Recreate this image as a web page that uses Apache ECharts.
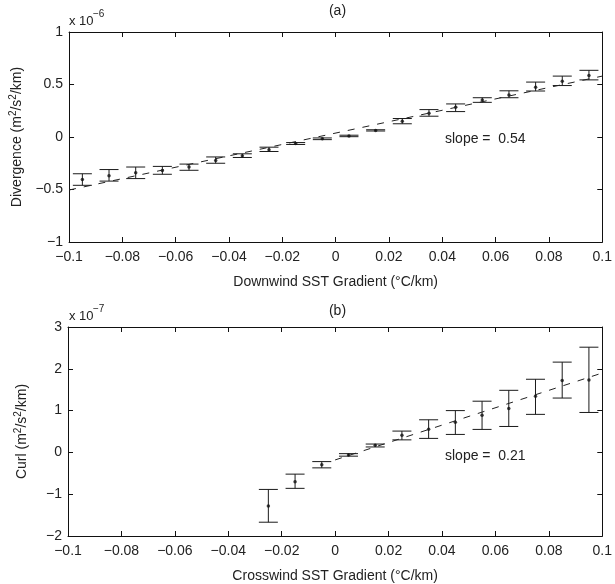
<!DOCTYPE html>
<html>
<head>
<meta charset="utf-8">
<script src="https://cdn.jsdelivr.net/npm/echarts@6/dist/echarts.min.js"></script>
<style>html,body{margin:0;padding:0;background:#fff}#c{width:615px;height:584px}</style>
</head>
<body>
<div id="c"></div>
<script>
// ---- data (values in display units: top ×1e-6, bottom ×1e-7) ----
const divX    = [-0.095,-0.085,-0.075,-0.065,-0.055,-0.045,-0.035,-0.025,-0.015,-0.005,0.005,0.015,0.025,0.035,0.045,0.055,0.065,0.075,0.085,0.095];
const divMean = [-0.405,-0.368,-0.340,-0.320,-0.286,-0.223,-0.179,-0.122,-0.062,-0.017,0.010,0.063,0.151,0.226,0.283,0.353,0.400,0.475,0.532,0.585];
const divLow  = [-0.460,-0.420,-0.396,-0.355,-0.317,-0.250,-0.195,-0.138,-0.071,-0.025,0.003,0.057,0.126,0.198,0.242,0.330,0.374,0.438,0.490,0.544];
const divHigh = [-0.350,-0.310,-0.286,-0.280,-0.258,-0.190,-0.160,-0.097,-0.053,-0.009,0.017,0.069,0.176,0.261,0.315,0.374,0.440,0.523,0.580,0.635];
const divFitX = [-0.1, 0.1];
const divFitY = [-0.505, 0.58];

const curlX    = [-0.025,-0.015,-0.005,0.005,0.015,0.025,0.035,0.045,0.055,0.065,0.075,0.085,0.095];
const curlMean = [-1.28,-0.70,-0.295,-0.06,0.17,0.41,0.556,0.72,0.886,1.05,1.343,1.72,1.735];
const curlLow  = [-1.67,-0.86,-0.37,-0.09,0.13,0.30,0.335,0.43,0.55,0.62,0.91,1.30,0.955];
const curlHigh = [-0.886,-0.52,-0.22,-0.03,0.20,0.51,0.78,1.00,1.225,1.485,1.75,2.16,2.517];
const curlFitX = [0, 0.1];
const curlFitY = [-0.18, 1.9];

const xTickLabels    = ['\u22120.1','\u22120.08','\u22120.06','\u22120.04','\u22120.02','0','0.02','0.04','0.06','0.08','0.1'];
const divTickLabels  = ['\u22121','\u22120.5','0','0.5','1'];
const curlTickLabels = ['\u22122','\u22121','0','1','2','3'];

const FONT = 'Liberation Sans';
const chart = echarts.init(document.getElementById('c'), null, {renderer:'canvas'});

function xAxes(gridIndex, name) {
  const base = {
    gridIndex, type:'value', min:-0.1, max:0.1, interval:0.02,
    axisLine:{show:true, onZero:false, lineStyle:{color:'#111', width:1}},
    axisTick:{show:true, inside:true, length:5, lineStyle:{color:'#111'}},
    splitLine:{show:false}
  };
  return [
    Object.assign({}, base, {
      position:'bottom', name, nameLocation:'middle', nameGap:33,
      nameTextStyle:{fontFamily:FONT, fontSize:14, color:'#222'},
      axisLabel:{fontFamily:FONT, fontSize:14, color:'#222', margin:8,
        formatter:v => xTickLabels[Math.round((v + 0.1) / 0.02)]}
    }),
    Object.assign({}, base, {position:'top', axisLabel:{show:false}})
  ];
}
function yAxes(gridIndex, min, max, interval, labels, name) {
  const base = {
    gridIndex, type:'value', min, max, interval,
    axisLine:{show:true, onZero:false, lineStyle:{color:'#111', width:1}},
    axisTick:{show:true, inside:true, length:5, lineStyle:{color:'#111'}},
    splitLine:{show:false}
  };
  return [
    Object.assign({}, base, {
      position:'left', name, nameLocation:'middle', nameGap:36,
      nameTextStyle:{fontFamily:FONT, fontSize:14, color:'#222',
        rich:{
          n:{fontFamily:FONT, fontSize:14, color:'#222'},
          sup:{fontFamily:FONT, fontSize:10, color:'#222', padding:[0,0,9,0]}
        }},
      axisLabel:{fontFamily:FONT, fontSize:14, color:'#222', margin:6,
        formatter:v => labels[Math.round((v - min) / interval)]}
    }),
    Object.assign({}, base, {position:'right', axisLabel:{show:false}})
  ];
}

function errSeries(xs, lo, hi, xi, yi) {
  return {
    type:'custom', xAxisIndex:xi, yAxisIndex:yi, silent:true,
    data: xs.map((x, i) => [x, lo[i], hi[i]]),
    encode:{x:0, y:[1,2]},
    renderItem(params, api) {
      const x = api.value(0);
      const pl = api.coord([x, api.value(1)]);
      const ph = api.coord([x, api.value(2)]);
      const hw = 9.5;
      const st = {stroke:'#1a1a1a', lineWidth:1};
      return {type:'group', children:[
        {type:'line', shape:{x1:pl[0], y1:pl[1], x2:ph[0], y2:ph[1]}, style:st},
        {type:'line', shape:{x1:pl[0]-hw, y1:pl[1], x2:pl[0]+hw, y2:pl[1]}, style:st},
        {type:'line', shape:{x1:ph[0]-hw, y1:ph[1], x2:ph[0]+hw, y2:ph[1]}, style:st}
      ]};
    }
  };
}
function dotSeries(xs, ys, xi, yi) {
  return {type:'scatter', xAxisIndex:xi, yAxisIndex:yi, symbol:'circle', symbolSize:3.5,
    itemStyle:{color:'#111'}, silent:true, data: xs.map((x, i) => [x, ys[i]])};
}
function fitSeries(xs, ys, xi, yi) {
  return {type:'line', xAxisIndex:xi, yAxisIndex:yi, showSymbol:false, silent:true,
    lineStyle:{color:'#222', width:1, type:[7,8]}, data: xs.map((x, i) => [x, ys[i]])};
}

const txt = (x, y, text, size, align) => ({
  type:'text', x, y, silent:true,
  style:{text, fontFamily:FONT, fontSize:size, fill:'#222', align:align||'left', verticalAlign:'middle'}
});

const option = {
  animation:false,
  backgroundColor:'#fff',
  textStyle:{fontFamily:FONT},
  grid:[
    {left:68, top:32, width:539, height:210},
    {left:68, top:327, width:539, height:212}
  ],
  xAxis:[].concat(
    xAxes(0, 'Downwind SST Gradient (\u00B0C/km)'),
    xAxes(1, 'Crosswind SST Gradient (\u00B0C/km)')
  ),
  yAxis:[].concat(
    yAxes(0, -1, 1, 0.5, divTickLabels, '{n|Divergence (m}{sup|2}{n|/s}{sup|2}{n|/km)}'),
    yAxes(1, -2, 3, 1, curlTickLabels, '{n|Curl (m}{sup|2}{n|/s}{sup|2}{n|/km)}')
  ),
  series:[
    fitSeries(divFitX, divFitY, 0, 0),
    errSeries(divX, divLow, divHigh, 0, 0),
    dotSeries(divX, divMean, 0, 0),
    fitSeries(curlFitX, curlFitY, 2, 2),
    errSeries(curlX, curlLow, curlHigh, 2, 2),
    dotSeries(curlX, curlMean, 2, 2)
  ],
  graphic:[
    txt(337.5, 11, '(a)', 14, 'center'),
    txt(337.5, 311, '(b)', 14, 'center'),
    txt(69, 21, 'x 10', 13),
    txt(93, 14, '\u22126', 10),
    txt(69, 316, 'x 10', 13),
    txt(93, 309, '\u22127', 10),
    txt(445, 139, 'slope =  0.54', 14),
    txt(445, 456, 'slope =  0.21', 14)
  ]
};
chart.setOption(option);
</script>
</body>
</html>
